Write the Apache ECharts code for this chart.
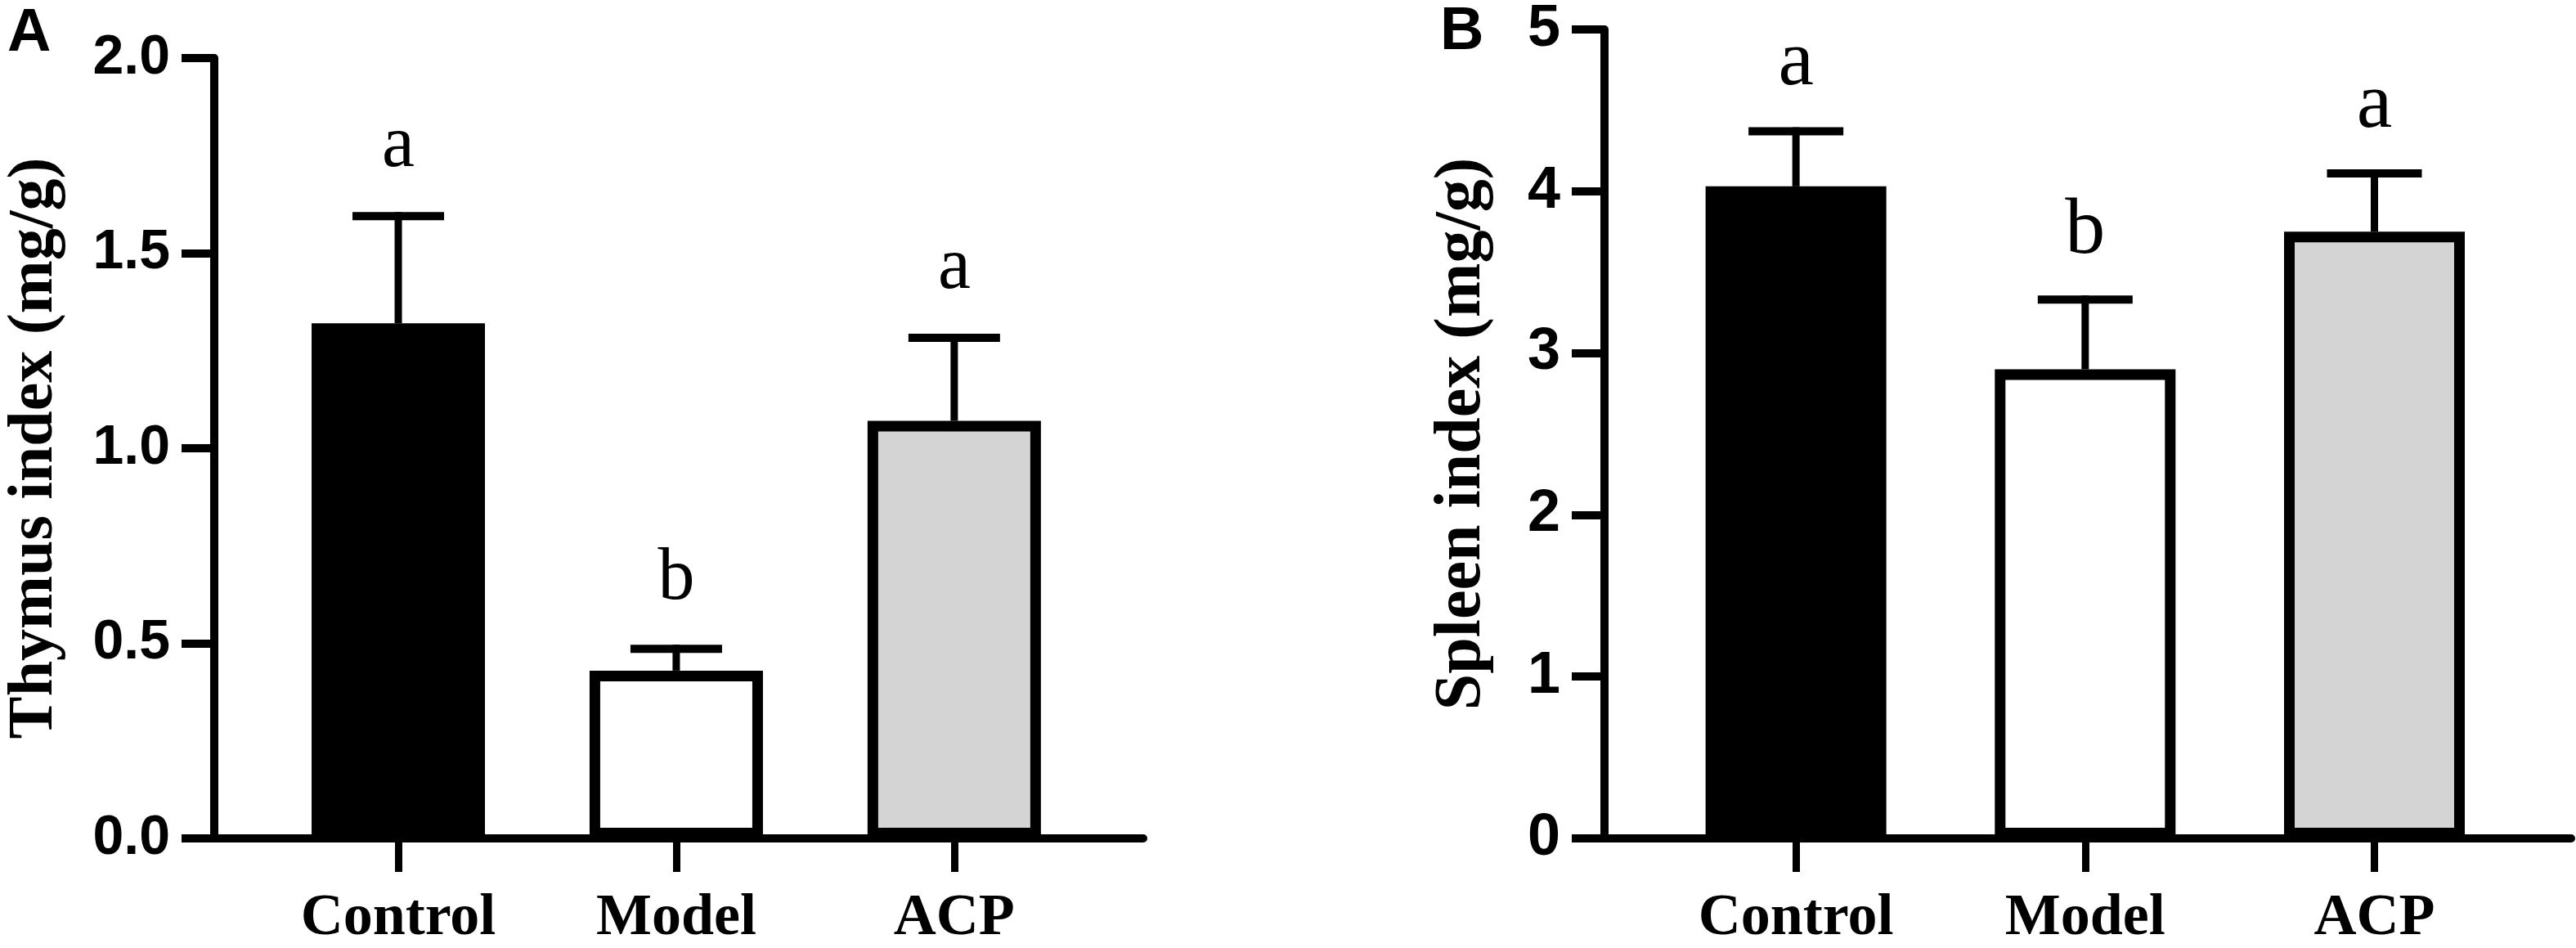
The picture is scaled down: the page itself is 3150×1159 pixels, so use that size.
<!DOCTYPE html>
<html>
<head>
<meta charset="utf-8">
<script src="https://cdn.jsdelivr.net/npm/echarts@6/dist/echarts.min.js"></script>
<style>
html,body{margin:0;padding:0;background:#fff;}
#chart{width:3150px;height:1159px;}
</style>
</head>
<body>
<div id="chart"></div>
<script>
// ---- data ----
const categories = ['Control', 'Model', 'ACP'];
const catPos = [1, 2, 3];
const barColors = ['#000000', '#ffffff', '#d4d4d4'];

const thymusMean = [1.32, 0.43, 1.07];
const thymusErr  = [0.275, 0.056, 0.213];
const thymusLetters = ['a', 'b', 'a'];
const thymusTicks = ['0.0', '0.5', '1.0', '1.5', '2.0'];

const spleenMean = [4.03, 2.90, 3.75];
const spleenErr  = [0.34, 0.43, 0.36];
const spleenLetters = ['a', 'b', 'a'];
const spleenTicks = ['0', '1', '2', '3', '4', '5'];

const SERIF = '"Liberation Serif","Times New Roman",serif';
const SANS = '"Liberation Sans",Arial,sans-serif';

function barData(means) {
  return means.map((m, i) => ({ value: [catPos[i], m], itemStyle: { color: barColors[i] } }));
}
function errData(means, errs) {
  return means.map((m, i) => [catPos[i], m, errs[i]]);
}
function errRender(letters, capW, gap, fs) {
  return function (params, api) {
    const x = api.value(0), m = api.value(1), e = api.value(2);
    const base = api.coord([x, m]);
    const top = api.coord([x, m + e]);
    return {
      type: 'group',
      children: [
        { type: 'line', shape: { x1: base[0], y1: base[1], x2: top[0], y2: top[1] - 5 },
          style: { stroke: '#000', lineWidth: 9 } },
        { type: 'line', shape: { x1: top[0] - capW / 2, y1: top[1], x2: top[0] + capW / 2, y2: top[1] },
          style: { stroke: '#000', lineWidth: 10 } },
        { type: 'text', x: top[0], y: top[1] - gap,
          style: { text: letters[params.dataIndex], font: 'normal ' + fs + 'px ' + SERIF,
                   fill: '#000', textAlign: 'center', textVerticalAlign: 'bottom', verticalAlign: 'bottom' } }
      ]
    };
  };
}

function xAxisCfg(gridIndex) {
  return {
    type: 'value', gridIndex: gridIndex, min: 0.338, max: 3.68,
    splitLine: { show: false },
    axisLine: { show: true, lineStyle: { color: '#000', width: 10 } },
    axisTick: { show: true, customValues: catPos, length: 41, lineStyle: { color: '#000', width: 9 } },
    axisLabel: { show: true, customValues: catPos, margin: 62,
      formatter: (v) => categories[Math.round(v) - 1] || '',
      color: '#000', fontFamily: SERIF, fontWeight: 'bold', fontSize: 72 }
  };
}
function yAxisCfg(gridIndex, max, interval, ticks, name, nameSize, nameGap, labelSize) {
  return {
    type: 'value', gridIndex: gridIndex, min: 0, max: max, interval: interval,
    name: name, nameLocation: 'middle', nameRotate: 90, nameGap: nameGap,
    nameTextStyle: { color: '#000', fontFamily: SERIF, fontWeight: 'bold', fontSize: nameSize },
    splitLine: { show: false },
    axisLine: { show: true, lineStyle: { color: '#000', width: 10 } },
    axisTick: { show: true, length: 40, lineStyle: { color: '#000', width: 10 } },
    axisLabel: { margin: 54, color: '#000', fontFamily: SANS, fontWeight: 'bold', fontSize: labelSize,
      formatter: (v) => ticks[Math.round(v / interval)] }
  };
}

const chart = echarts.init(document.getElementById('chart'), null, { renderer: 'canvas' });
chart.setOption({
  backgroundColor: '#ffffff',
  animation: false,
  title: [
    { text: 'A', left: 4, top: 0, textStyle: { fontFamily: SANS, fontWeight: 'bold', fontSize: 74, color: '#000' } },
    { text: 'B', left: 1756, top: -2, textStyle: { fontFamily: SANS, fontWeight: 'bold', fontSize: 74, color: '#000' } }
  ],
  grid: [
    { left: 262, top: 71, width: 1136, height: 959 },
    { left: 1962, top: 33, width: 1182, height: 997 }
  ],
  xAxis: [xAxisCfg(0), xAxisCfg(1)],
  yAxis: [
    yAxisCfg(0, 2, 0.5, thymusTicks, 'Thymus index (mg/g)', 78, 180, 68),
    yAxisCfg(1, 5, 1, spleenTicks, 'Spleen index (mg/g)', 80, 134, 72)
  ],
  series: [
    { type: 'bar', xAxisIndex: 0, yAxisIndex: 0, barWidth: 212, data: barData(thymusMean),
      itemStyle: { borderColor: '#000', borderWidth: 13 } },
    { type: 'custom', xAxisIndex: 0, yAxisIndex: 0, z: 3, data: errData(thymusMean, thymusErr),
      renderItem: errRender(thymusLetters, 112, 40, 90) },
    { type: 'bar', xAxisIndex: 1, yAxisIndex: 1, barWidth: 221, data: barData(spleenMean),
      itemStyle: { borderColor: '#000', borderWidth: 13 } },
    { type: 'custom', xAxisIndex: 1, yAxisIndex: 1, z: 3, data: errData(spleenMean, spleenErr),
      renderItem: errRender(spleenLetters, 116, 34, 98) }
  ]
});
</script>
</body>
</html>
